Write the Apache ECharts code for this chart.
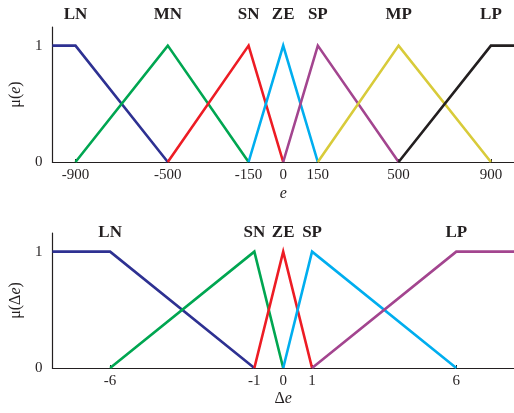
<!DOCTYPE html>
<html>
<head>
<meta charset="utf-8">
<script src="https://cdn.jsdelivr.net/npm/echarts@6/dist/echarts.min.js"></script>
<style>
  html, body { margin: 0; padding: 0; background: #fff; }
  #chart { width: 514px; height: 413px; }
</style>
</head>
<body>
<div id="chart"></div>
<script>
// Membership functions of the error e (upper panel)
const eTicks = [-900, -500, -150, 0, 150, 500, 900];
const eNames = ['LN', 'MN', 'SN', 'ZE', 'SP', 'MP', 'LP'];
const eLN = [[-1000, 1], [-900, 1], [-500, 0]];
const eMN = [[-900, 0], [-500, 1], [-150, 0]];
const eSN = [[-500, 0], [-150, 1], [0, 0]];
const eZE = [[-150, 0], [0, 1], [150, 0]];
const eSP = [[0, 0], [150, 1], [500, 0]];
const eMP = [[150, 0], [500, 1], [900, 0]];
const eLP = [[500, 0], [900, 1], [1000, 1]];
// index of the point that carries each set's name
const eNamePoint = [1, 1, 1, 1, 1, 1, 1];

// Membership functions of the error change Δe (lower panel)
const deTicks = [-6, -1, 0, 1, 6];
const deNames = ['LN', 'SN', 'ZE', 'SP', 'LP'];
const deLN = [[-8, 1], [-6, 1], [-1, 0]];
const deSN = [[-6, 0], [-1, 1], [0, 0]];
const deZE = [[-1, 0], [0, 1], [1, 0]];
const deSP = [[0, 0], [1, 1], [6, 0]];
const deLP = [[1, 0], [6, 1], [8, 1]];
const deNamePoint = [1, 1, 1, 1, 1];

const yTicks = [0, 1];

const eColors = ['#2e3192', '#00a651', '#ed1c24', '#00aeef', '#a3458f', '#d8cb3a', '#231f20'];
const deColors = ['#2e3192', '#00a651', '#ed1c24', '#00aeef', '#a3458f'];

const serif = '"Liberation Serif", "Times New Roman", serif';
const ink = '#231f20';
const italicRich = { i: { fontFamily: serif, fontStyle: 'italic', fontSize: 16, color: ink } };

function setSeries(points, name, color, axisIdx) {
  return {
    type: 'line',
    name: name,
    xAxisIndex: axisIdx,
    yAxisIndex: axisIdx,
    showSymbol: false,
    symbol: 'none',
    silent: true,
    clip: true,
    lineStyle: { color: color, width: 2.6, join: 'miter' },
    data: points
  };
}

// points (with no visible symbol) that carry the set names above each peak
function nameSeries(sets, names, namePoint, axisIdx, labelDist) {
  return {
    type: 'scatter',
    xAxisIndex: axisIdx,
    yAxisIndex: axisIdx,
    silent: true,
    symbolSize: 0,
    itemStyle: { color: ink },
    label: {
      show: true,
      position: 'top',
      distance: labelDist,
      formatter: function (p) { return names[p.dataIndex]; },
      fontFamily: serif,
      fontWeight: 'bold',
      fontSize: 17,
      color: ink,
      opacity: 1,
      textBorderWidth: 0
    },
    data: sets.map(function (pts, i) { return pts[namePoint[i]]; }),
    z: 5
  };
}

function xAxisDef(idx, min, max, ticks, title, gap) {
  return {
    type: 'value',
    gridIndex: idx,
    min: min,
    max: max,
    name: title,
    nameLocation: 'middle',
    nameGap: gap,
    nameTextStyle: { fontFamily: serif, fontSize: 16, color: ink, rich: italicRich },
    axisLine: { show: true, onZero: false, lineStyle: { color: ink, width: 1.2 } },
    axisTick: { show: true, inside: true, length: 3, customValues: ticks, lineStyle: { color: ink } },
    axisLabel: { customValues: ticks, fontFamily: serif, fontSize: 15, color: ink, margin: 6 },
    splitLine: { show: false }
  };
}

function yAxisDef(idx, title) {
  return {
    type: 'value',
    gridIndex: idx,
    min: 0,
    max: 1.16,
    name: title,
    nameLocation: 'middle',
    nameGap: 22,
    nameTextStyle: { fontFamily: serif, fontSize: 16, color: ink, rich: italicRich },
    axisLine: { show: true, onZero: false, lineStyle: { color: ink, width: 1.2 } },
    axisTick: { show: false },
    axisLabel: { customValues: yTicks, fontFamily: serif, fontSize: 15, color: ink, margin: 10 },
    splitLine: { show: false }
  };
}

const eSets = [eLN, eMN, eSN, eZE, eSP, eMP, eLP];
const deSets = [deLN, deSN, deZE, deSP, deLP];

const series = [];
eSets.forEach(function (pts, i) {
  series.push(setSeries(pts, eNames[i], eColors[i], 0));
});
deSets.forEach(function (pts, i) {
  series.push(setSeries(pts, deNames[i], deColors[i], 1));
});
series.push(nameSeries(eSets, eNames, eNamePoint, 0, 23));
series.push(nameSeries(deSets, deNames, deNamePoint, 1, 11));

const chart = echarts.init(document.getElementById('chart'), null, { renderer: 'canvas' });
chart.setOption({
  animation: false,
  backgroundColor: '#ffffff',
  grid: [
    { left: 48, right: 0, top: 27, height: 135 },
    { left: 48, right: 0, top: 233, height: 135 }
  ],
  xAxis: [
    xAxisDef(0, -1000, 1000, eTicks, '{i|e}', 24),
    xAxisDef(1, -8, 8, deTicks, 'Δ{i|e}', 23)
  ],
  yAxis: [
    yAxisDef(0, 'μ({i|e})'),
    yAxisDef(1, 'μ(Δ{i|e})')
  ],
  series: series
});
</script>
</body>
</html>
